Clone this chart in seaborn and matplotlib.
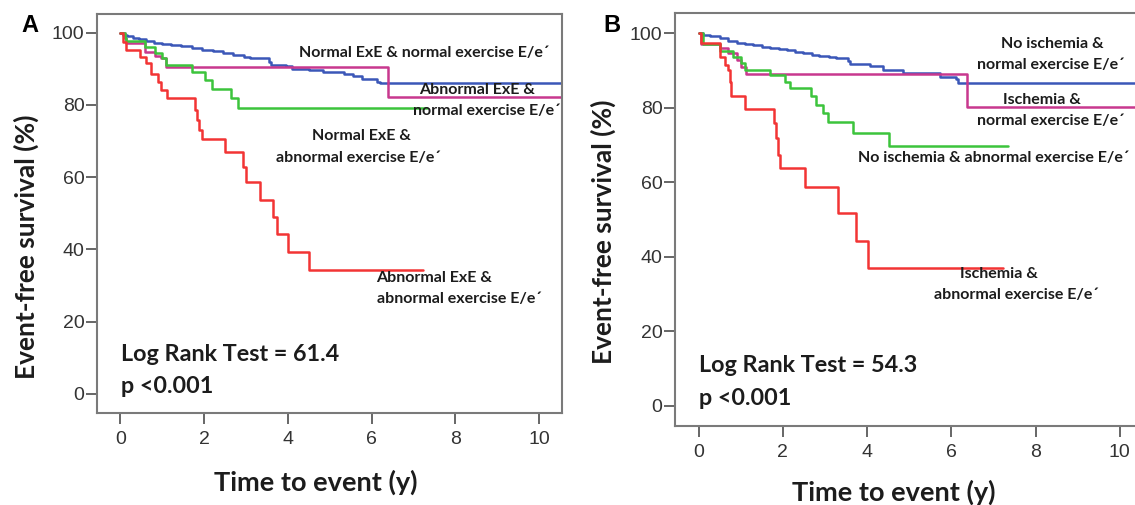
import numpy as np
import pandas as pd
import matplotlib as mpl
mpl.use("Agg")
import matplotlib.pyplot as plt
import seaborn as sns

# --- datos (curvas Kaplan-Meier, escalonadas) ---
GROUPS_A = ["Normal ExE & normal E/e'", "Abnormal ExE & normal E/e'",
            "Normal ExE & abnormal E/e'", "Abnormal ExE & abnormal E/e'"]
GROUPS_B = ["No ischemia & normal E/e'", "Ischemia & normal E/e'",
            "No ischemia & abnormal E/e'", "Ischemia & abnormal E/e'"]

# Panel A
blue_a_t = [0, 0.05, 0.15, 0.3, 0.45, 0.6, 0.8, 1.0, 1.2, 1.45, 1.7, 1.95, 2.2, 2.45,
            2.7, 2.95, 3.1, 3.55, 3.6, 3.95, 4.1, 4.5, 4.85, 5.1, 5.33, 5.55, 5.77,
            6.12, 6.2, 10.6]
blue_a_s = [100, 99.5, 99, 98.6, 98.2, 97.8, 97.3, 97, 96.6, 96.2, 95.8, 95.3, 94.9, 94.4,
            93.8, 93.4, 93.0, 92.0, 91.1, 90.8, 90.1, 89.7, 89.2, 89.0, 88.7, 88.0, 87.3,
            86.4, 86.1, 86.1]
mag_a_t = [0, 0.1, 0.14, 0.58, 0.82, 0.98, 1.1, 6.39, 10.6]
mag_a_s = [100, 98.5, 97.2, 94.7, 93.5, 92.9, 90.6, 82.3, 82.3]
green_a_t = [0, 0.1, 0.14, 0.58, 0.82, 1.0, 1.1, 1.70, 2.02, 2.18, 2.65, 2.81, 7.32]
green_a_s = [100, 98.5, 97.8, 96.1, 94.3, 93.0, 91.1, 89.2, 87.0, 84.5, 81.8, 79.3, 79.3]
red_a_t = [0, 0.05, 0.14, 0.46, 0.62, 0.74, 0.9, 0.98, 1.12, 1.78, 1.83, 1.88, 1.94,
           2.49, 2.93, 3.01, 3.33, 3.65, 3.73, 4.01, 4.51, 7.24]
red_a_s = [100, 97.5, 95.2, 93.3, 91.5, 88.7, 86.4, 84.1, 81.8, 78.5, 75.8, 73.0, 70.5,
           66.9, 62.8, 58.8, 53.8, 49.1, 44.3, 39.2, 34.3, 34.3]

# Panel B
blue_b_t = [0, 0.1, 0.27, 0.5, 0.7, 0.9, 1.1, 1.3, 1.5, 1.69, 1.9, 2.1, 2.3, 2.48, 2.7,
            2.87, 3.1, 3.27, 3.55, 3.6, 4.06, 4.37, 4.85, 5.72, 6.11, 6.15, 10.6]
blue_b_s = [100, 99.6, 99.2, 98.7, 98.1, 97.4, 97.1, 96.8, 96.5, 96.1, 95.8, 95.5, 95.1,
            94.7, 94.3, 94.0, 93.7, 93.4, 92.5, 91.9, 91.2, 90.2, 89.5, 88.3, 87.7, 86.8, 86.8]
mag_b_t = [0, 0.05, 0.52, 0.7, 0.9, 1.0, 1.12, 6.37, 10.6]
mag_b_s = [100, 97.2, 96.0, 94.7, 92.9, 91.0, 89.0, 80.2, 80.2]
green_b_t = [0, 0.11, 0.5, 0.82, 1.0, 1.1, 1.69, 2.05, 2.16, 2.68, 2.79, 2.95, 3.07,
             3.66, 4.52, 7.34]
green_b_s = [100, 97.2, 95.2, 93.8, 92.0, 90.2, 88.9, 87.1, 85.3, 83.1, 80.8, 78.6, 76.3,
             73.2, 69.8, 69.8]
red_b_t = [0, 0.05, 0.5, 0.62, 0.7, 0.74, 0.78, 1.1, 1.8, 1.84, 1.88, 1.93, 2.52, 3.31,
           3.73, 4.02, 7.22]
red_b_s = [100, 97.4, 93.6, 91.5, 90.2, 87.0, 83.3, 79.7, 75.9, 72.0, 67.4, 63.8, 58.9,
           51.8, 44.4, 37.0, 37.0]

COLORS = ["#3b57b8", "#c8388e", "#3cc43c", "#f23434"]

X_TICKS = [0, 2, 4, 6, 8, 10]
Y_TICKS = [0, 20, 40, 60, 80, 100]

LOGRANK_A = "Log Rank Test = 61.4"
LOGRANK_B = "Log Rank Test = 54.3"
P_TEXT = "p <0.001"

# etiquetas de las curvas: (x, y, texto, alineacion)
LABELS_A = [
    (7.26, 94.4, "Normal ExE & normal exercise E/e´", "center"),
    (8.52, 84.1, "Abnormal ExE &", "center"),
    (8.76, 78.3, "normal exercise E/e´", "center"),
    (5.77, 71.3, "Normal ExE &", "center"),
    (5.69, 65.4, "abnormal exercise E/e´", "center"),
    (6.12, 32.1, "Abnormal ExE &", "left"),
    (6.12, 26.2, "abnormal exercise E/e´", "left"),
]
LABELS_B = [
    (8.39, 97.2, "No ischemia &", "center"),
    (8.36, 91.6, "normal exercise E/e´", "center"),
    (8.16, 82.2, "Ischemia &", "center"),
    (8.36, 76.6, "normal exercise E/e´", "center"),
    (3.78, 66.5, "No ischemia & abnormal exercise E/e´", "left"),
    (7.12, 35.4, "Ischemia &", "center"),
    (7.54, 29.8, "abnormal exercise E/e´", "center"),
]


def long_df(groups, series):
    rows = []
    for g, (t, s) in zip(groups, series):
        for ti, si in zip(t, s):
            rows.append({"group": g, "time": ti, "surv": si})
    return pd.DataFrame(rows)


df_a = long_df(GROUPS_A, [(blue_a_t, blue_a_s), (mag_a_t, mag_a_s),
                          (green_a_t, green_a_s), (red_a_t, red_a_s)])
df_b = long_df(GROUPS_B, [(blue_b_t, blue_b_s), (mag_b_t, mag_b_s),
                          (green_b_t, green_b_s), (red_b_t, red_b_s)])

sns.set_style("white")
plt.rcParams["font.family"] = ["Lato", "DejaVu Sans"]

LABEL_FONT = ["Lato", "DejaVu Sans"]
TICK_FONT = ["Liberation Sans", "DejaVu Sans"]
TXT = "#1c1c1c"

fig = plt.figure(figsize=(11.35, 5.05), dpi=100)
fig.patch.set_facecolor("white")
ax_a = fig.add_axes([97 / 1135, 1 - 413 / 505, 465 / 1135, 399 / 505])
ax_b = fig.add_axes([675 / 1135, 1 - 426 / 505, 468 / 1135, 413 / 505])


def draw_panel(ax, df, groups, labels, logrank, ylim, ylab_pos, xlab_pos):
    sns.lineplot(data=df, x="time", y="surv", hue="group", hue_order=groups,
                 palette=COLORS, drawstyle="steps-post", estimator=None, sort=False,
                 linewidth=1.8, legend=False, ax=ax)
    ax.set_xlim(-0.56, 10.55)
    ax.set_ylim(*ylim)
    ax.set_xticks(X_TICKS)
    ax.set_yticks(Y_TICKS)
    ax.tick_params(axis="both", direction="out", length=8, width=1.4, color="#666666",
                   labelcolor="#333333", labelsize=14, bottom=True, left=True)
    ax.tick_params(axis="x", pad=5)
    ax.tick_params(axis="y", pad=1)
    for lab in ax.get_xticklabels() + ax.get_yticklabels():
        lab.set_family(TICK_FONT)
    for sp in ax.spines.values():
        sp.set_visible(True)
        sp.set_color("#7a7a7a")
        sp.set_linewidth(1.5)

    ax.set_xlabel("Time to event (y)", fontsize=19.5, fontweight="bold", color=TXT,
                  family=LABEL_FONT)
    ax.set_ylabel("Event-free survival (%)", fontsize=19, fontweight="bold", color=TXT,
                  family=LABEL_FONT)
    ax.xaxis.label.set(va="center", ha="center")
    ax.yaxis.label.set(va="center", ha="center", rotation_mode="default")
    ax.xaxis.set_label_coords(*xlab_pos)
    ax.yaxis.set_label_coords(*ylab_pos)

    for x, y, s, ha in labels:
        ax.text(x, y, s, ha=ha, va="center", fontsize=11.5, fontweight="bold",
                color=TXT, family=LABEL_FONT, clip_on=False)
    ax.text(0.02, 10.9, logrank, ha="left", va="center", fontsize=16.8,
            fontweight="bold", color=TXT, family=LABEL_FONT)
    ax.text(0.02, 2.0, P_TEXT, ha="left", va="center", fontsize=16.8,
            fontweight="bold", color=TXT, family=LABEL_FONT)


draw_panel(ax_a, df_a, GROUPS_A, LABELS_A, LOGRANK_A, (-5.3, 105.2),
           (-0.153, 0.416), (0.471, -0.175))
draw_panel(ax_b, df_b, GROUPS_B, LABELS_B, LOGRANK_B, (-5.4, 105.5),
           (-0.154, 0.47), (0.468, -0.16))

fig.text(30 / 1135, 1 - 25 / 505, "A", ha="center", va="center", fontsize=17,
         fontweight="bold", family=TICK_FONT, color="black")
fig.text(612 / 1135, 1 - 25 / 505, "B", ha="center", va="center", fontsize=17,
         fontweight="bold", family=TICK_FONT, color="black")

fig.savefig("out.png", dpi=100, facecolor="white")
